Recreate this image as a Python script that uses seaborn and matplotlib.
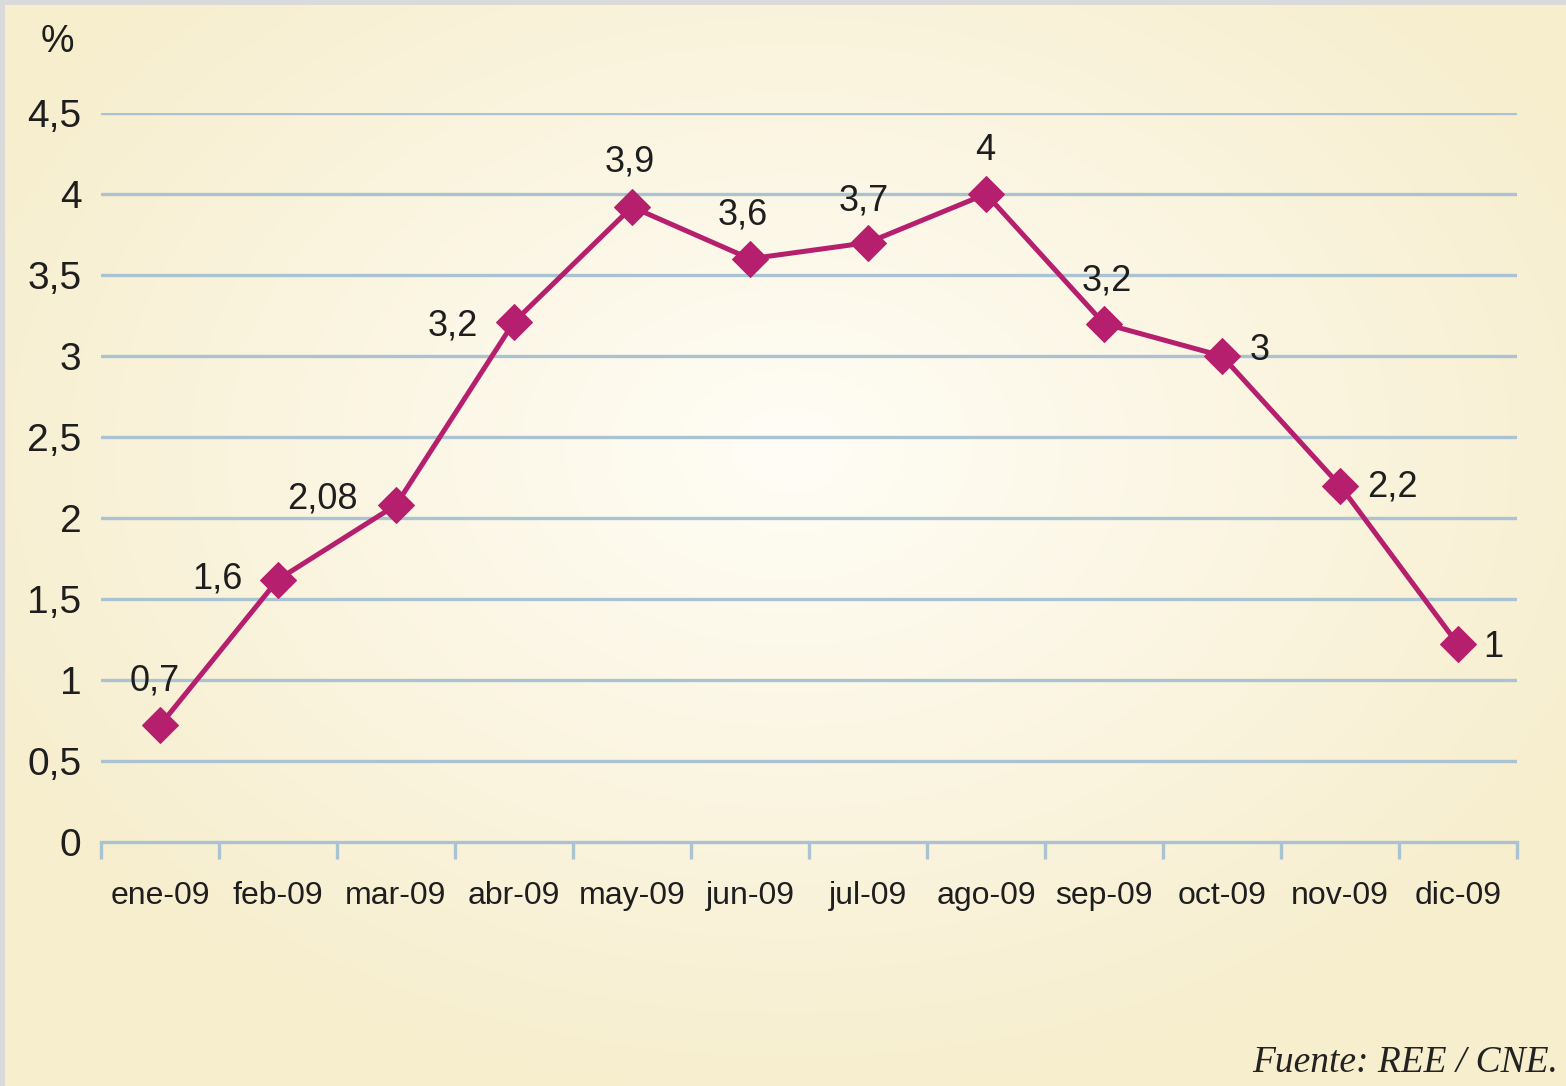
import numpy as np
import pandas as pd
import matplotlib.pyplot as plt
import seaborn as sns

# data
months = ['ene-09', 'feb-09', 'mar-09', 'abr-09', 'may-09', 'jun-09',
          'jul-09', 'ago-09', 'sep-09', 'oct-09', 'nov-09', 'dic-09']
values = [0.72, 1.62, 2.08, 3.21, 3.92, 3.6, 3.7, 4.0, 3.2, 3.0, 2.2, 1.22]
value_labels = ['0,7', '1,6', '2,08', '3,2', '3,9', '3,6',
                '3,7', '4', '3,2', '3', '2,2', '1']
yticks = [0, 0.5, 1, 1.5, 2, 2.5, 3, 3.5, 4, 4.5]
ytick_labels = ['0', '0,5', '1', '1,5', '2', '2,5', '3', '3,5', '4', '4,5']

# label offsets in pixels (layout only)
label_offsets = [(-5, 44), (-61, 1), (-74, 6), (-61, -4), (-2, 45), (-7, 44),
                 (-4, 42), (-1, 43), (3, 43), (38, 6), (52, -1), (35, -3)]

df = pd.DataFrame({'mes': np.arange(len(months)), 'valor': values})

sns.set_theme(style='white')
plt.rcParams['font.family'] = ['Liberation Sans Narrow', 'Liberation Sans', 'DejaVu Sans']

line_col = '#b51f6e'
grid_col = '#a9c3d3'
text_col = '#1e1e1e'

fig = plt.figure(figsize=(15.66, 10.86), dpi=100)

# radial gradient background
bg = fig.add_axes([0, 0, 1, 1], zorder=-5)
W, H = 1566, 1086
yy, xx = np.mgrid[0:H, 0:W]
r = np.sqrt(((xx - 790) / 900.0) ** 2 + ((yy - 450) / 650.0) ** 2)
r = np.clip(r, 0, 1)
c_in = np.array([255, 253, 246]) / 255
c_out = np.array([247, 238, 206]) / 255
img = c_in[None, None, :] * (1 - r[..., None]) + c_out[None, None, :] * r[..., None]
img[:5, :, :] = 218 / 255
img[:, :5, :] = 218 / 255
bg.imshow(img, aspect='auto', extent=[0, 1, 0, 1], origin='upper')
bg.axis('off')

ax = fig.add_axes([101 / W, 1 - 842 / H, (1517 - 101) / W, (842 - 113) / H])
ax.patch.set_alpha(0)

for y in yticks[1:]:
    ax.axhline(y, color=grid_col, lw=2.4, zorder=1)

sns.lineplot(data=df, x='mes', y='valor', ax=ax, color=line_col, lw=3.6,
             marker='D', markersize=18, markeredgecolor=line_col, zorder=3)

for i, (v, lab) in enumerate(zip(values, value_labels)):
    dx, dy = label_offsets[i]
    ax.annotate(lab, (i, v), xytext=(dx, dy), textcoords='offset pixels',
                ha='center', va='center', fontsize=26, color=text_col,
                annotation_clip=False)

ax.set_xlim(-0.5, len(months) - 0.5)
ax.set_ylim(0, 4.5)
sns.despine(ax=ax, left=True, right=True, top=True)
ax.spines['bottom'].set_color(grid_col)
ax.spines['bottom'].set_linewidth(2.4)

ax.set_xticks(range(len(months)))
ax.set_xticklabels(months, fontsize=23, color=text_col)
ax.set_xticks(np.arange(-0.5, len(months)), minor=True)
ax.tick_params(axis='x', which='major', length=0, pad=28)
ax.tick_params(axis='x', which='minor', direction='out', length=12,
               width=2.4, color=grid_col, bottom=True)

ax.set_yticks(yticks)
ax.set_yticklabels(ytick_labels, fontsize=28, color=text_col)
ax.tick_params(axis='y', length=0, pad=14)
ax.set_xlabel('')
ax.set_ylabel('')

fig.text(57 / W, 1 - 42 / H, '%', fontsize=27, color=text_col,
         ha='center', va='center')
fig.text(1558 / W, 1 - 1063 / H, 'Fuente: REE / CNE.', fontsize=27,
         family='Liberation Serif', style='italic', color='#222222',
         ha='right', va='center')

fig.savefig('out.png', dpi=100)
